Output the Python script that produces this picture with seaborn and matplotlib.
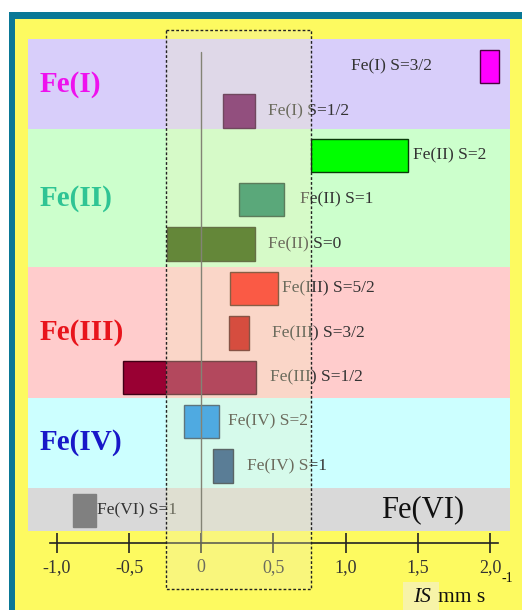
import matplotlib
matplotlib.use("Agg")
import matplotlib.pyplot as plt
from matplotlib.patches import Rectangle
import seaborn as sns

# Isomer-shift ranges (mm/s) of iron oxidation / spin states
states = ["Fe(I) S=3/2", "Fe(I) S=1/2",
          "Fe(II) S=2", "Fe(II) S=1", "Fe(II) S=0",
          "Fe(III) S=5/2", "Fe(III) S=3/2", "Fe(III) S=1/2",
          "Fe(IV) S=2", "Fe(IV) S=1",
          "Fe(VI) S=1"]
groups = ["Fe(I)", "Fe(I)",
          "Fe(II)", "Fe(II)", "Fe(II)",
          "Fe(III)", "Fe(III)", "Fe(III)",
          "Fe(IV)", "Fe(IV)",
          "Fe(VI)"]
is_low = [1.93, 0.15, 0.76, 0.26, -0.24, 0.20, 0.19, -0.54, -0.12, 0.08, -0.89]
is_high = [2.06, 0.37, 1.43, 0.57, 0.37, 0.53, 0.33, 0.38, 0.12, 0.22, -0.73]
group_names = ["Fe(I)", "Fe(II)", "Fe(III)", "Fe(IV)", "Fe(VI)"]
tick_values = [-1.0, -0.5, 0.0, 0.5, 1.0, 1.5, 2.0]
tick_labels = ["-1,0", "-0,5", "0", "0,5", "1,0", "1,5", "2,0"]

# ---- styling -------------------------------------------------------------
bar_colors = ["#ff00ff", "#6a0a62", "#00ff00", "#1a895c", "#285a00",
              "#ff1a10", "#cc0808", "#990033", "#0a8cf0", "#1a4c84", "#808080"]
bar_edges = ["#4a0040", "#3a0035", "#0a3a0a", "#1d4a30", "#2a3a10",
             "#5a2010", "#5a1010", "#400015", "#204060", "#1a2a40", "#808080"]
band_colors = ["#d8cefa", "#ccffcc", "#ffcccc", "#ccffff", "#d9d9d9"]
group_colors = ["#ee11ee", "#2fc494", "#e8141c", "#1818c8", "#111111"]
label_color = "#333333"

# ---- layout (pixel geometry of the 522x610 canvas) ------------------------
W, H = 522, 610
X0_PX, PX_PER_UNIT = 201.3, 144.33          # x = 0 and scale of the IS axis
ROW0_PX, ROW_PX = 66.5, 44.4                 # first row centre and row pitch
AX_L, AX_R, AX_T, AX_B = 28, 510, 39, 543    # plotting area
band_edges_px = [39, 129, 267, 398, 488, 531]
label_x_px = [351, 268, 413, 300, 268, 282, 272, 270, 228, 247, 97]


def xdata(px):
    return (px - X0_PX) / PX_PER_UNIT


def ydata(px):
    return (px - ROW0_PX) / ROW_PX


sns.set_theme(style="white")
plt.rcParams["font.family"] = ["Liberation Serif", "DejaVu Serif"]

fig = plt.figure(figsize=(W / 100, H / 100), dpi=100)
fig.patch.set_facecolor("white")

# teal frame and yellow page
fig.add_artist(Rectangle((9 / W, 0), 1 - 9 / W, 1 - 12 / H, transform=fig.transFigure,
                         facecolor="#0a7896", edgecolor="none", zorder=-3))
fig.add_artist(Rectangle((15 / W, 0), 1 - 15 / W, 1 - 19 / H, transform=fig.transFigure,
                         facecolor="#fdfa60", edgecolor="none", zorder=-2))

ax = fig.add_axes([AX_L / W, 1 - AX_B / H, (AX_R - AX_L) / W, (AX_B - AX_T) / H])
ax.set_facecolor("none")
ax.set_xlim(xdata(AX_L), xdata(AX_R))
ax.set_ylim(ydata(AX_B), ydata(AX_T))

rows = list(range(len(states)))

# oxidation-state bands
for i, name in enumerate(group_names):
    ax.axhspan(ydata(band_edges_px[i]), ydata(band_edges_px[i + 1]),
               color=band_colors[i], lw=0, zorder=0)
    ymid = ydata((band_edges_px[i] + band_edges_px[i + 1]) / 2)
    if name == "Fe(VI)":
        ax.text(xdata(381), ymid, name, fontsize=22, color=group_colors[i],
                ha="left", va="center", zorder=6)
    else:
        ax.text(xdata(40), ymid, name, fontsize=21, fontweight="bold",
                color=group_colors[i], ha="left", va="center", zorder=6)

# isomer-shift ranges
widths = [h - l for l, h in zip(is_low, is_high)]
ax.barh(rows, widths, left=is_low, height=0.755, color=bar_colors,
        edgecolor=bar_edges, linewidth=1.0, zorder=2)
for r, name in zip(rows, states):
    ax.text(xdata(label_x_px[r]), r, name, fontsize=12.5, color=label_color,
            ha="left", va="center", zorder=3)

# IS = 0 reference line
ax.plot([0, 0], [ydata(52), ydata(AX_B)], color="#555555", lw=1.0,
        zorder=2.5, clip_on=False)

# highlighted window
win_x0, win_x1 = xdata(166), xdata(311)
win_y0, win_y1 = ydata(30), ydata(589)
ax.add_patch(Rectangle((win_x0, win_y0), win_x1 - win_x0, win_y1 - win_y0,
                       facecolor="#f0f0c0", alpha=0.3, edgecolor="none",
                       zorder=4, clip_on=False))
ax.add_patch(Rectangle((win_x0, win_y0), win_x1 - win_x0, win_y1 - win_y0,
                       fill=False, edgecolor="#222222", lw=1.0,
                       linestyle=(0, (2, 1.5)), zorder=4.5, clip_on=False))

# x axis
for side in ("left", "top", "right"):
    ax.spines[side].set_visible(False)
ax.spines["bottom"].set_bounds(xdata(50), xdata(498))
ax.spines["bottom"].set_color("#222222")
ax.spines["bottom"].set_linewidth(1.2)
ax.set_xticks(tick_values, tick_labels)
ax.set_yticks([])
ax.tick_params(axis="x", bottom=True, direction="inout", length=15, width=1.2,
               color="#222222", labelsize=13, labelcolor="#333333", pad=4)
ax.grid(False)

# axis title
fig.add_artist(Rectangle((403 / W, 0), 36 / W, 1 - 582 / H, transform=fig.transFigure,
                         facecolor="#f7f3a8", edgecolor="none", zorder=-1))
fig.text(413 / W, 1 - 602 / H, "IS", fontsize=15.5, style="italic",
         color="#111111", ha="left", va="baseline")
fig.text(438 / W, 1 - 602 / H, "mm s", fontsize=15.5, color="#111111",
         ha="left", va="baseline")
fig.text(501 / W, 1 - 578 / H, "-1", fontsize=10, color="#111111",
         ha="left", va="center")

fig.savefig("out.png", dpi=100)
